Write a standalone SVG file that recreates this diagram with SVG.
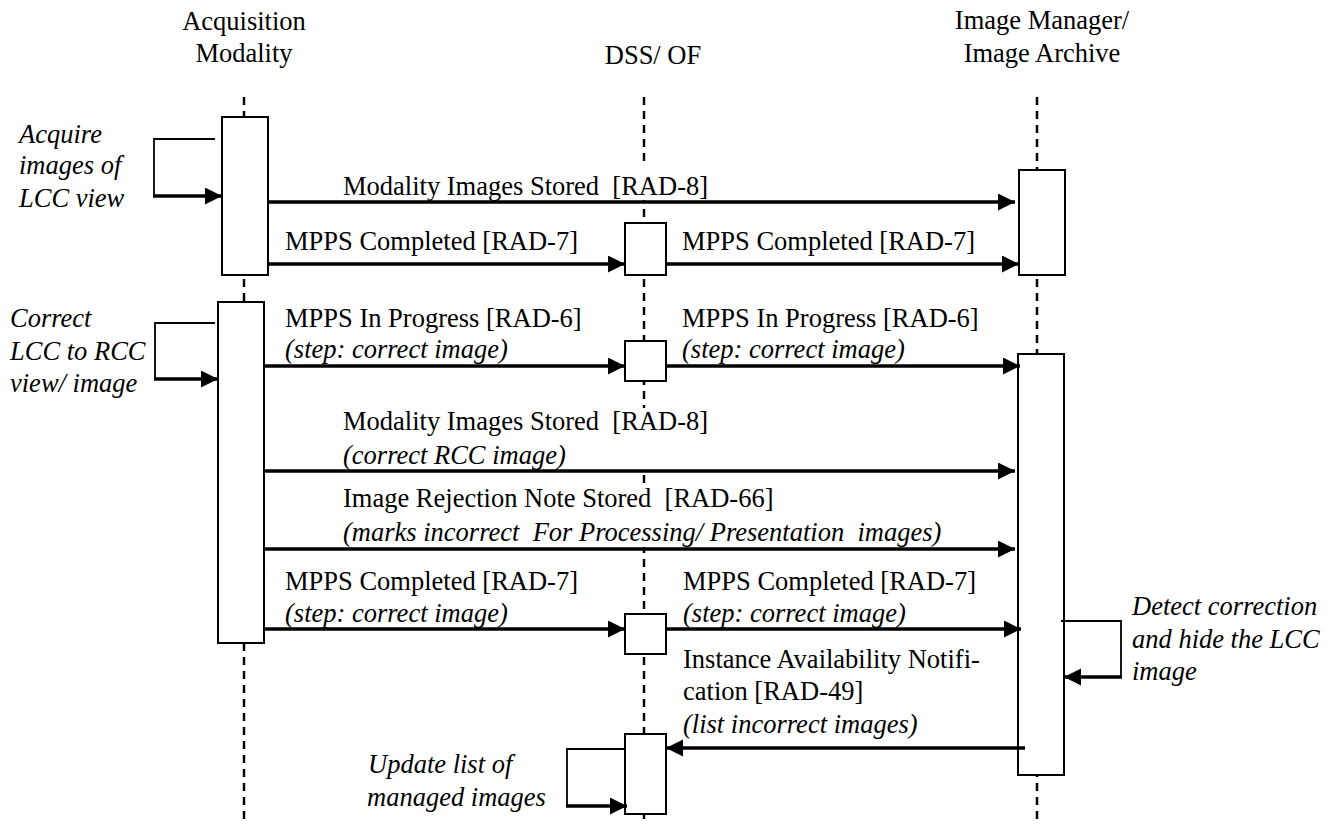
<svg xmlns="http://www.w3.org/2000/svg" width="1337" height="825" viewBox="0 0 1337 825">
<style>
text{font-family:"Liberation Serif","Times New Roman",serif;font-size:26.5px;fill:#000;white-space:pre}
.i{font-style:italic}
.m{text-anchor:middle}
.life{stroke:#000;stroke-width:2.5;stroke-dasharray:8 6;fill:none}
.box{fill:#fff;stroke:#000;stroke-width:2}
.bg{fill:#fff;stroke:none}
.msg{stroke:#000;stroke-width:3.5;fill:none;marker-end:url(#ah)}
.loop{stroke:#000;stroke-width:1.8;fill:none}
</style>
<defs>
<marker id="ah" markerUnits="userSpaceOnUse" markerWidth="18" markerHeight="18" viewBox="0 0 18 18" refX="17" refY="8.5" orient="auto">
<path d="M0,0 L17,8.5 L0,17 Z" fill="#000"/>
</marker>
</defs>
<rect width="1337" height="825" fill="#fff"/>
<g id="lifelines">
<line class="life" x1="244" y1="97" x2="244" y2="825"/>
<line class="life" x1="644" y1="97" x2="644" y2="825"/>
<line class="life" x1="1037" y1="97" x2="1037" y2="825"/>
</g>
<g id="label-backgrounds">
<rect class="bg" x="340" y="167" width="372" height="33"/>
<rect class="bg" x="340" y="408" width="372" height="61"/>
<rect class="bg" x="340" y="486" width="610" height="61"/>
</g>
<g id="acquisition-modality">
<text class="m" x="244" y="30">Acquisition</text>
<text class="m" x="244" y="62">Modality</text>
<rect class="box" x="222" y="117" width="46" height="158"/>
<rect class="box" x="218" y="302" width="46" height="341"/>
</g>
<g id="dss-of">
<text class="m" x="653" y="64">DSS/ OF</text>
<rect class="box" x="625" y="223" width="41" height="52"/>
<rect class="box" x="625" y="341" width="41" height="40"/>
<rect class="box" x="625" y="614" width="41" height="40"/>
<rect class="box" x="625" y="734" width="41" height="80"/>
</g>
<g id="image-manager">
<text class="m" x="1042" y="29">Image Manager/</text>
<text class="m" x="1042" y="62">Image Archive</text>
<rect class="box" x="1019" y="170" width="46" height="105"/>
<rect class="box" x="1018" y="354" width="46" height="421"/>
</g>
<g id="connectors">
<line class="msg" x1="268" y1="202" x2="1015" y2="202"/>
<line class="msg" x1="268" y1="264" x2="625" y2="264"/>
<line class="msg" x1="666" y1="264" x2="1019" y2="264"/>
<line class="msg" x1="264" y1="366" x2="625" y2="366"/>
<line class="msg" x1="666" y1="366" x2="1020" y2="366"/>
<line class="msg" x1="264" y1="471" x2="1015" y2="471"/>
<line class="msg" x1="264" y1="549" x2="1015" y2="549"/>
<line class="msg" x1="264" y1="629" x2="625" y2="629"/>
<line class="msg" x1="666" y1="629" x2="1021" y2="629"/>
<line class="msg" x1="1025" y1="748" x2="666" y2="748"/>
<polyline class="loop" points="215,139 154,139 154,196"/>
<line class="msg" x1="153" y1="196" x2="222" y2="196"/>
<polyline class="loop" points="215,323 155,323 155,379"/>
<line class="msg" x1="154" y1="379" x2="218" y2="379"/>
<polyline class="loop" points="1061,621 1121,621 1121,677"/>
<line class="msg" x1="1122" y1="677" x2="1064" y2="677"/>
<polyline class="loop" points="625,749 567,749 567,806"/>
<line class="msg" x1="566" y1="806" x2="627" y2="806"/>
</g>
<g id="labels">
<text x="343" y="195">Modality Images Stored  [RAD-8]</text>
<text x="285" y="250">MPPS Completed [RAD-7]</text>
<text x="682" y="250">MPPS Completed [RAD-7]</text>
<text x="285" y="327">MPPS In Progress [RAD-6]</text>
<text class="i" x="285" y="358">(step: correct image)</text>
<text x="682" y="327">MPPS In Progress [RAD-6]</text>
<text class="i" x="682" y="358">(step: correct image)</text>
<text x="343" y="430">Modality Images Stored  [RAD-8]</text>
<text class="i" x="343" y="464">(correct RCC image)</text>
<text x="343" y="507">Image Rejection Note Stored  [RAD-66]</text>
<text class="i" x="343" y="541">(marks incorrect  For Processing/ Presentation  images)</text>
<text x="285" y="590">MPPS Completed [RAD-7]</text>
<text class="i" x="285" y="622">(step: correct image)</text>
<text x="683" y="590">MPPS Completed [RAD-7]</text>
<text class="i" x="683" y="622">(step: correct image)</text>
<text x="683" y="668">Instance Availability Notifi-</text>
<text x="683" y="700">cation [RAD-49]</text>
<text class="i" x="683" y="733">(list incorrect images)</text>
</g>
<g id="notes">
<text class="i" x="19" y="143">Acquire</text>
<text class="i" x="19" y="174">images of</text>
<text class="i" x="19" y="207">LCC view</text>
<text class="i" x="10" y="327">Correct</text>
<text class="i" x="10" y="360">LCC to RCC</text>
<text class="i" x="10" y="392">view/ image</text>
<text class="i" x="1132" y="615">Detect correction</text>
<text class="i" x="1132" y="648">and hide the LCC</text>
<text class="i" x="1132" y="680">image</text>
<text class="i" x="368" y="773">Update list of</text>
<text class="i" x="367" y="806">managed images</text>
</g>
</svg>
